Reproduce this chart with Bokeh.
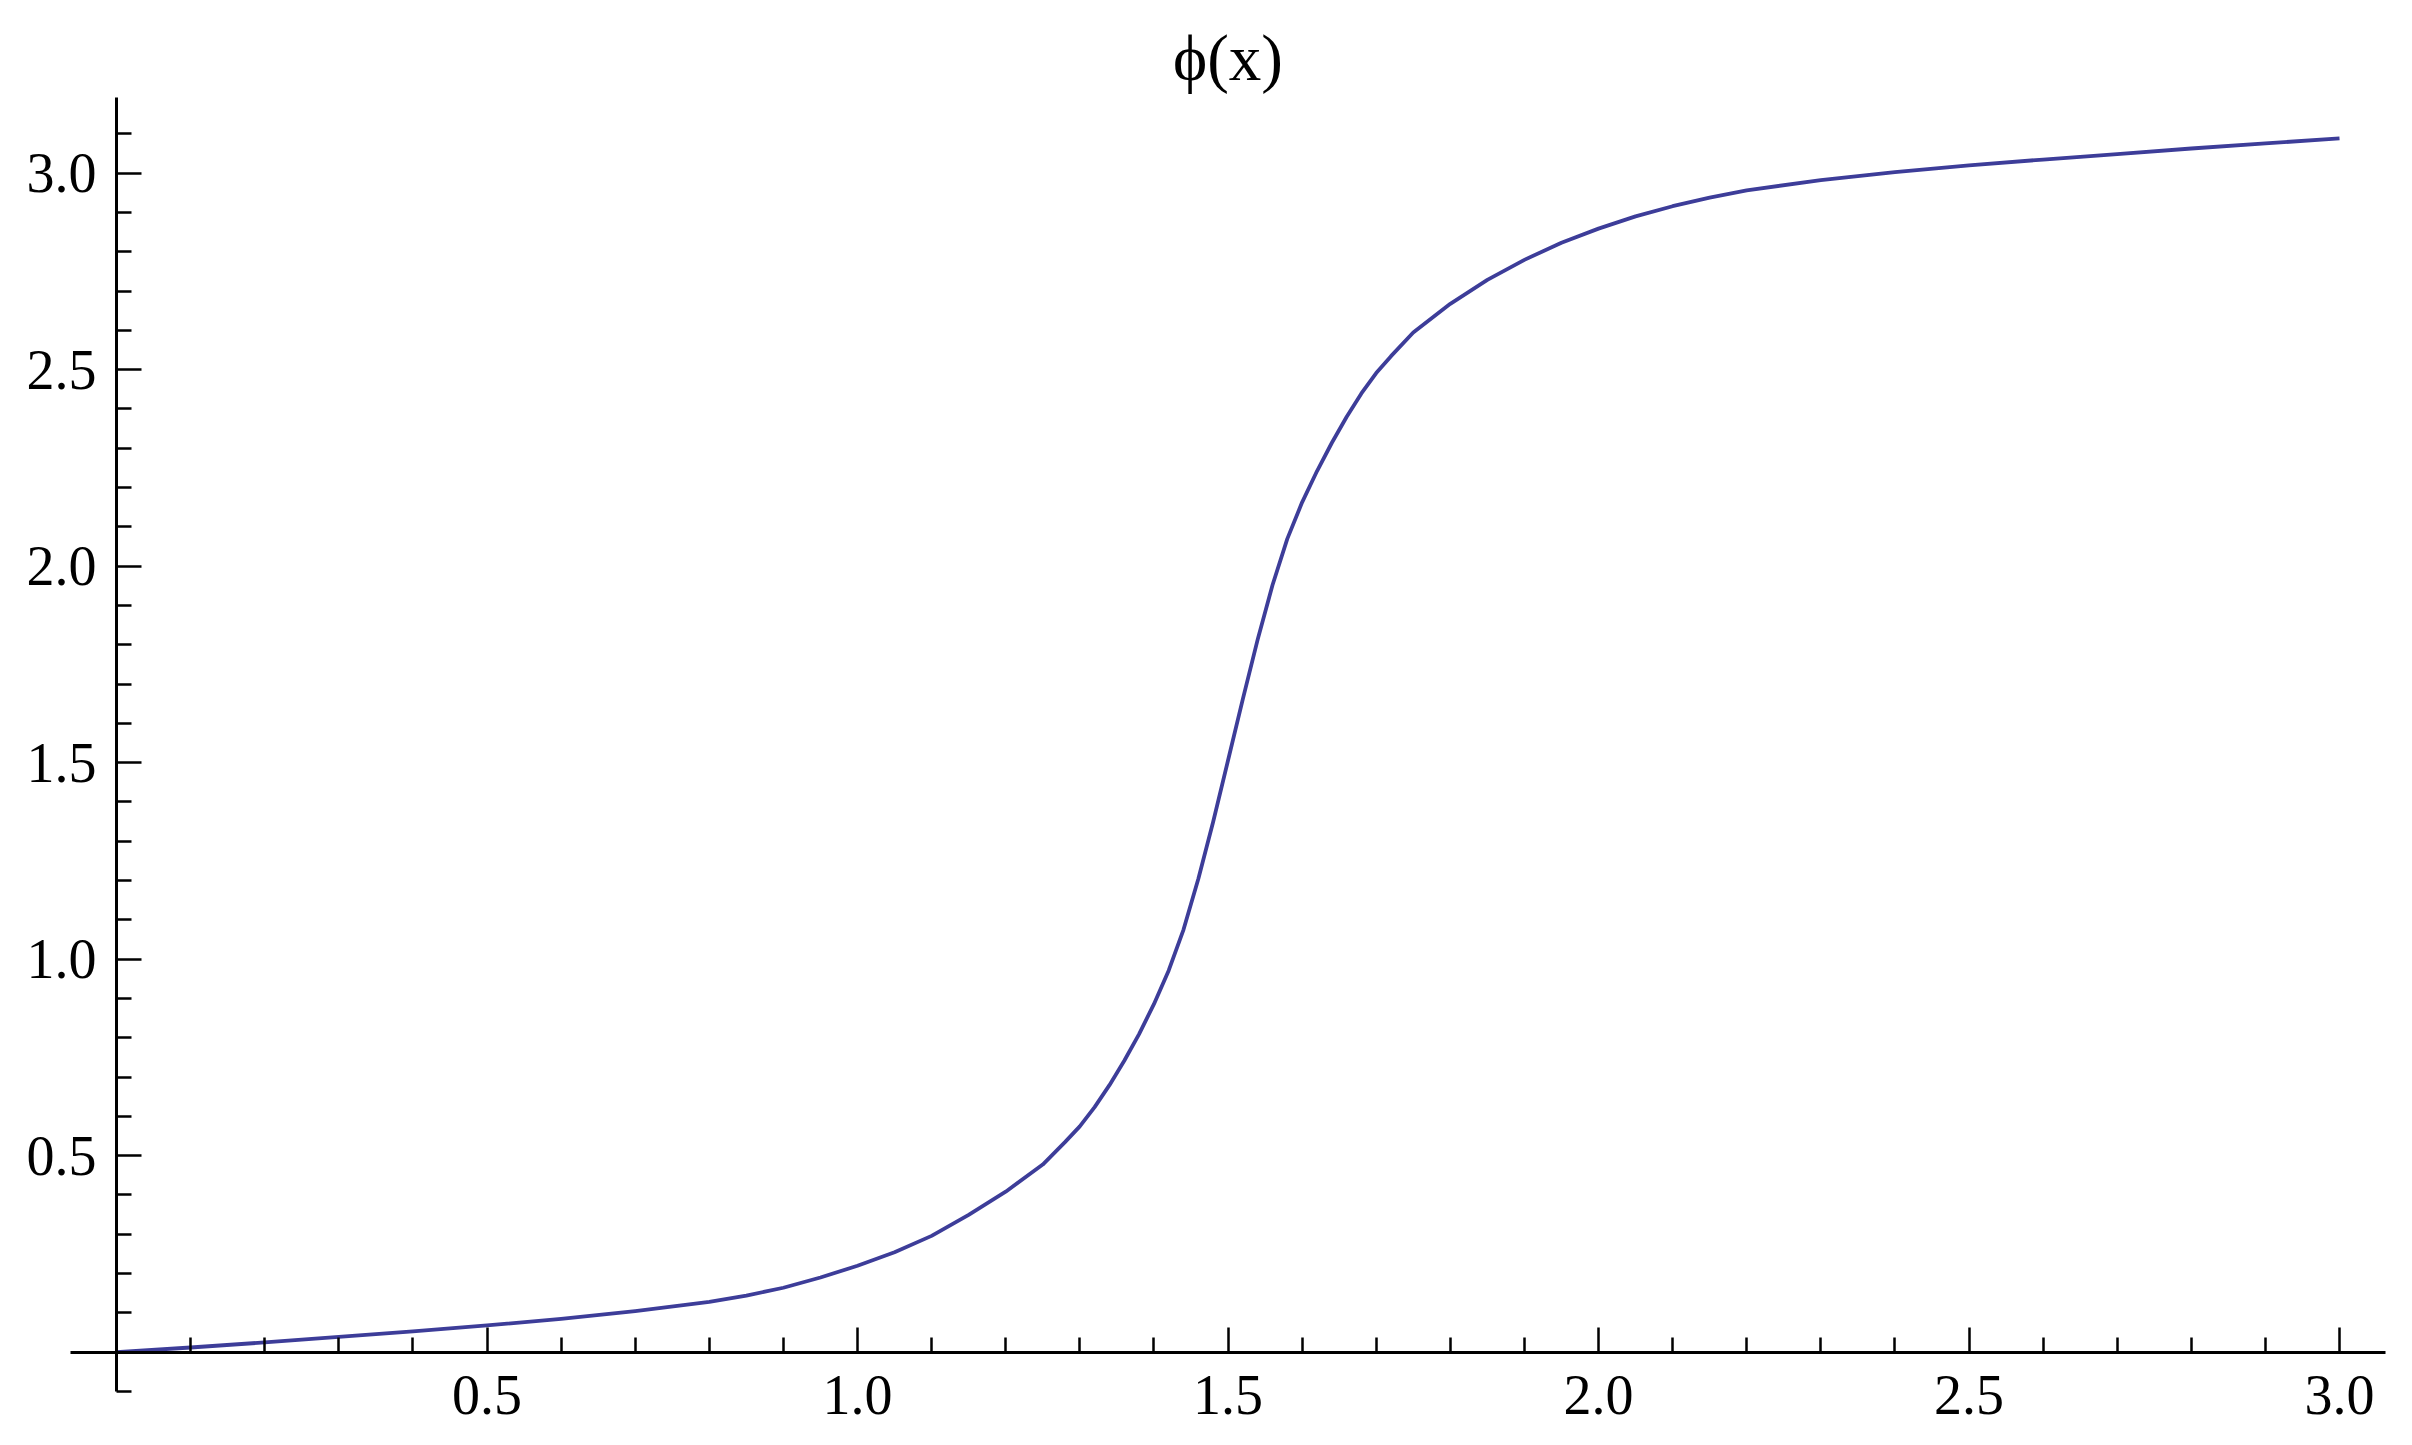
from bokeh.plotting import figure
from bokeh.models import Range1d, FixedTicker, PrintfTickFormatter, Label
from bokeh.embed import file_html
from bokeh.resources import INLINE

# curve samples
x_vals = [0.0, 0.1, 0.2, 0.3, 0.4, 0.5, 0.6, 0.7, 0.8, 0.85, 0.9, 0.95, 1.0, 1.05,
          1.1, 1.15, 1.2, 1.25, 1.28, 1.30, 1.32, 1.34, 1.36, 1.38, 1.40, 1.42,
          1.44, 1.46, 1.48, 1.50, 1.52, 1.54, 1.56, 1.58, 1.60, 1.62, 1.64, 1.66,
          1.68, 1.70, 1.72, 1.75, 1.8, 1.85, 1.9, 1.95, 2.0, 2.05, 2.1, 2.15, 2.2,
          2.3, 2.4, 2.5, 2.6, 2.7, 2.8, 2.9, 3.0]
phi_vals = [0.0, 0.012, 0.025, 0.039, 0.053, 0.068, 0.085, 0.1045, 0.128, 0.144,
            0.164, 0.190, 0.220, 0.2545, 0.296, 0.3495, 0.4085, 0.4775, 0.5345,
            0.5745, 0.6235, 0.6795, 0.7415, 0.8095, 0.8855, 0.9715, 1.0755,
            1.2047, 1.3495, 1.5055, 1.6619, 1.8131, 1.9515, 2.0695, 2.1625,
            2.2415, 2.3135, 2.3795, 2.4395, 2.4915, 2.5345, 2.5945, 2.6675,
            2.7285, 2.7795, 2.8232, 2.859, 2.890, 2.916, 2.938, 2.9565, 2.9823,
            3.0025, 3.0197, 3.0348, 3.0488, 3.0628, 3.0759, 3.0884]

x_major = [0.5, 1.0, 1.5, 2.0, 2.5, 3.0]
x_minor = [round(0.1 * i, 1) for i in range(1, 30) if i % 5 != 0]
y_major = [0.5, 1.0, 1.5, 2.0, 2.5, 3.0]
y_minor = [-0.1] + [round(0.1 * i, 1) for i in range(1, 32) if i % 5 != 0]

title_text = "\u03d5(x)"

p = figure(width=2400, height=1437, output_backend="svg", toolbar_location=None,
           x_range=Range1d(-0.15655, 3.08232), y_range=Range1d(-0.21705, 3.43944),
           min_border_left=0, min_border_right=0, min_border_top=0,
           min_border_bottom=0)

p.line(x_vals, phi_vals, line_width=3.8, line_color="#3d3d99", line_join="round")

title = Label(x=1.5, y=3.292, x_units="data", y_units="data", text=title_text,
              text_font="Liberation Serif", text_font_size="65px",
              text_color="black", text_align="center", text_baseline="alphabetic")
p.add_layout(title)

p.xgrid.visible = False
p.ygrid.visible = False
p.outline_line_color = None
p.background_fill_color = "white"
p.border_fill_color = "white"

for ax, major, minor in ((p.xaxis[0], x_major, x_minor), (p.yaxis[0], y_major, y_minor)):
    ax.fixed_location = 0
    ax.ticker = FixedTicker(ticks=major, minor_ticks=minor)
    ax.formatter = PrintfTickFormatter(format="%.1f")
    ax.axis_line_width = 3
    ax.axis_line_color = "black"
    ax.major_tick_line_width = 2.5
    ax.minor_tick_line_width = 2.5
    ax.major_tick_line_color = "black"
    ax.minor_tick_line_color = "black"
    ax.major_tick_in = 25
    ax.major_tick_out = 0
    ax.minor_tick_in = 15
    ax.minor_tick_out = 0
    ax.major_label_text_font = "Liberation Serif"
    ax.major_label_text_font_size = "56px"
    ax.major_label_text_color = "black"

p.xaxis[0].bounds = (-0.062, 3.062)
p.yaxis[0].bounds = (-0.1005, 3.192)
p.xaxis[0].major_label_standoff = 24
p.yaxis[0].major_label_standoff = 20

open("out.html", "w").write(file_html(p, INLINE))
